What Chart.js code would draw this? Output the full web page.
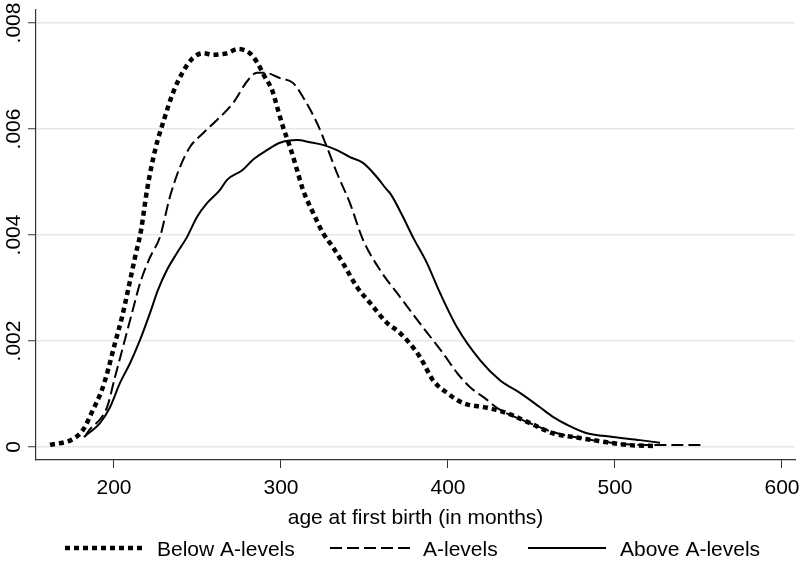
<!DOCTYPE html>
<html>
<head>
<meta charset="utf-8">
<script src="https://cdn.jsdelivr.net/npm/chart.js@4/dist/chart.umd.min.js"></script>
<style>
html,body{margin:0;padding:0;background:#fff;}
#wrap{width:800px;height:569px;}
</style>
</head>
<body>
<div id="wrap"><canvas id="c" width="800" height="569"></canvas></div>
<script>
// ---- data ----
const xTicks = [200, 300, 400, 500, 600];
const yTicks = [0, 0.002, 0.004, 0.006, 0.008];
const seriesNames = ['Below A-levels', 'A-levels', 'Above A-levels'];
const xTitle = 'age at first birth (in months)';

const belowX = [161.7,175.4,181.4,187.4,192.8,196.4,200.6,204.8,208.4,212.6,216.2,219.8,224.6,230.5,235.3,241.3,247.3,253.3,259.3,267.7,274.3,281.4,285.6,290.4,294.6,298.2,301.2,305.4,309.6,313.2,319.2,325.1,331.1,337.1,345.5,353.3,363.5,371.3,383.2,391.0,399.4,409.0,423.4,435.3,449.1,462.9,479.0,495.2,507.2,522.8];
const belowY = [0.00004,0.00015,0.00032,0.00070,0.00108,0.00145,0.00196,0.00245,0.00296,0.00358,0.00409,0.00485,0.00560,0.00623,0.00668,0.00708,0.00734,0.00743,0.00740,0.00743,0.00751,0.00743,0.00726,0.00698,0.00674,0.00636,0.00604,0.00566,0.00523,0.00485,0.00442,0.00404,0.00377,0.00347,0.00302,0.00272,0.00234,0.00215,0.00170,0.00126,0.00102,0.00083,0.00074,0.00064,0.00045,0.00026,0.00017,0.00009,0.00004,0.00002];

const aX = [182.6,183.8,195.8,200.6,205.4,210.8,215.6,221.6,227.5,233.5,239.5,245.5,253.3,261.7,271.3,280.2,285.6,290.4,299.4,307.2,313.2,321.6,327.5,333.5,341.3,349.1,359.3,371.3,385.0,397.0,405.4,413.2,423.4,429.3,449.1,462.9,479.0,495.2,515.0,553.0];
const aY = [0.00019,0.00026,0.00075,0.00132,0.00189,0.00253,0.00309,0.00358,0.00396,0.00472,0.00528,0.00566,0.00592,0.00617,0.00649,0.00692,0.00706,0.00706,0.00696,0.00687,0.00660,0.00611,0.00566,0.00517,0.00460,0.00391,0.00334,0.00283,0.00226,0.00177,0.00140,0.00113,0.00089,0.00074,0.00045,0.00028,0.00017,0.00009,0.00004,0.00004];

const aboveX = [182.0,191.6,197.6,203.6,209.6,215.6,221.6,226.3,231.7,237.7,243.7,249.7,255.7,263.5,267.7,277.2,283.2,291.6,299.4,309.6,317.4,325.1,333.5,341.3,349.1,357.5,363.5,365.3,373.1,379.0,387.4,395.2,405.4,419.2,431.1,443.1,455.1,462.9,471.3,483.2,498.8,515.0,527.0];
const aboveY = [0.00019,0.00045,0.00075,0.00121,0.00158,0.00202,0.00253,0.00296,0.00334,0.00366,0.00396,0.00434,0.00460,0.00485,0.00504,0.00523,0.00542,0.00560,0.00574,0.00579,0.00575,0.00570,0.00560,0.00547,0.00536,0.00509,0.00485,0.00479,0.00434,0.00396,0.00347,0.00291,0.00226,0.00164,0.00126,0.00102,0.00075,0.00057,0.00042,0.00026,0.00019,0.00013,0.00008];

// ---- styles ----
const FONT = "'Liberation Sans', Arial, Helvetica, sans-serif";
const styles = [
  {width: 4.5, dash: [5, 4]},
  {width: 2, dash: [12, 5]},
  {width: 2, dash: []}
];

function pts(xs, ys) { return xs.map((x, i) => ({x: x, y: ys[i]})); }

const seriesData = [pts(belowX, belowY), pts(aX, aY), pts(aboveX, aboveY)];

function yLabel(v) {
  if (v === 0) return '0';
  return '.' + v.toFixed(3).split('.')[1];
}

const extras = {
  id: 'extras',
  afterDraw(chart) {
    const ctx = chart.ctx;
    const ys = chart.scales.y;
    ctx.save();
    ctx.fillStyle = '#000';
    ctx.font = '21px ' + FONT;
    ctx.textAlign = 'center';
    ctx.textBaseline = 'alphabetic';
    yTicks.forEach(v => {
      const py = ys.getPixelForValue(v);
      ctx.save();
      ctx.translate(20, py);
      ctx.rotate(-Math.PI / 2);
      ctx.fillText(yLabel(v), 0, 0);
      ctx.restore();
    });
    // legend
    const items = [
      {x0: 65, x1: 142, tx: 157},
      {x0: 330, x1: 410, tx: 423},
      {x0: 528, x1: 606, tx: 620}
    ];
    const ly = 548;
    items.forEach((it, i) => {
      ctx.save();
      ctx.strokeStyle = '#000';
      ctx.lineWidth = styles[i].width;
      ctx.lineCap = 'butt';
      ctx.setLineDash(styles[i].dash);
      ctx.beginPath();
      ctx.moveTo(it.x0, ly);
      ctx.lineTo(it.x1, ly);
      ctx.stroke();
      ctx.restore();
      ctx.textAlign = 'left';
      ctx.textBaseline = 'alphabetic';
      ctx.fillText(seriesNames[i], it.tx, ly + 8);
    });
    ctx.restore();
  }
};

new Chart(document.getElementById('c'), {
  type: 'line',
  data: {
    datasets: seriesData.map((d, i) => ({
      label: seriesNames[i],
      data: d,
      borderColor: '#000',
      borderWidth: styles[i].width,
      borderDash: styles[i].dash,
      borderCapStyle: 'butt',
      pointRadius: 0,
      fill: false,
      cubicInterpolationMode: 'monotone'
    }))
  },
  options: {
    responsive: false,
    animation: false,
    devicePixelRatio: 1,
    layout: {padding: {left: 0, right: 5, top: 10, bottom: 0}},
    plugins: {legend: {display: false}, tooltip: {enabled: false}},
    scales: {
      x: {
        type: 'linear',
        min: 153.3,
        max: 607.8,
        afterBuildTicks(s) { s.ticks = xTicks.map(v => ({value: v})); },
        afterFit(s) { s.height = 109; s.paddingLeft = 0; s.paddingRight = 0; },
        grid: {drawOnChartArea: false, drawTicks: true, tickLength: 8, tickColor: '#333', tickWidth: 1},
        border: {color: '#333', width: 1.2},
        ticks: {color: '#000', font: {family: FONT, size: 21}, padding: 8, maxRotation: 0, autoSkip: false},
        title: {display: true, text: xTitle, color: '#000', font: {family: FONT, size: 21}, padding: {top: 0, bottom: 38}}
      },
      y: {
        type: 'linear',
        min: -0.000245,
        max: 0.008245,
        afterBuildTicks(s) { s.ticks = yTicks.map(v => ({value: v})); },
        afterFit(s) { s.width = 36; s.paddingTop = 0; s.paddingBottom = 0; },
        grid: {color: '#e8e8e8', lineWidth: 1.5, drawTicks: true, tickLength: 8, tickColor: '#333', tickWidth: 1},
        border: {color: '#333', width: 1.2},
        ticks: {display: false}
      }
    }
  },
  plugins: [extras]
});
</script>
</body>
</html>
